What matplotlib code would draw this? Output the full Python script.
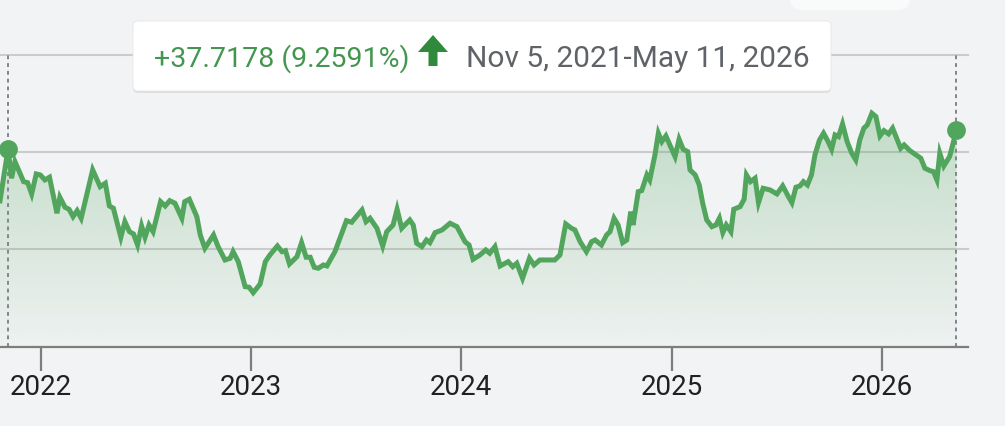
import matplotlib as mpl
import matplotlib.pyplot as plt
import numpy as np
import pandas as pd
from matplotlib.patches import FancyBboxPatch, Polygon

mpl.rcParams['font.family'] = ['Roboto', 'DejaVu Sans']

# price history
dates = [
    '2021-10-22', '2021-11-05', '2021-11-11', '2021-11-17', '2021-12-02', '2021-12-09', '2021-12-16',
    '2021-12-24', '2021-12-31', '2022-01-08', '2022-01-16', '2022-01-29', '2022-02-03', '2022-02-12',
    '2022-02-19', '2022-02-26', '2022-03-05', '2022-03-12', '2022-04-01', '2022-04-14', '2022-04-23',
    '2022-04-30', '2022-05-07', '2022-05-20', '2022-05-27', '2022-06-04', '2022-06-11', '2022-06-18',
    '2022-06-25', '2022-07-01', '2022-07-08', '2022-07-15', '2022-07-28', '2022-08-05', '2022-08-13',
    '2022-08-22', '2022-09-03', '2022-09-08', '2022-09-16', '2022-09-29', '2022-10-05', '2022-10-13',
    '2022-10-28', '2022-11-05', '2022-11-17', '2022-11-26', '2022-12-01', '2022-12-10', '2022-12-22',
    '2022-12-29', '2023-01-05', '2023-01-17', '2023-01-26', '2023-02-03', '2023-02-16', '2023-02-24',
    '2023-03-02', '2023-03-09', '2023-03-22', '2023-03-30', '2023-04-07', '2023-04-14', '2023-04-21',
    '2023-04-28', '2023-05-07', '2023-05-13', '2023-05-27', '2023-06-11', '2023-06-16', '2023-06-25',
    '2023-07-04', '2023-07-13', '2023-07-20', '2023-07-27', '2023-08-08', '2023-08-18', '2023-08-25',
    '2023-09-05', '2023-09-12', '2023-09-20', '2023-10-04', '2023-10-10', '2023-10-16', '2023-10-25',
    '2023-11-02', '2023-11-08', '2023-11-17', '2023-11-29', '2023-12-13', '2023-12-25', '2024-01-08',
    '2024-01-15', '2024-01-22', '2024-02-03', '2024-02-13', '2024-02-20', '2024-02-29', '2024-03-09',
    '2024-03-23', '2024-03-31', '2024-04-07', '2024-04-17', '2024-04-29', '2024-05-07', '2024-05-17',
    '2024-05-29', '2024-06-12', '2024-06-21', '2024-07-01', '2024-07-11', '2024-07-17', '2024-07-26',
    '2024-08-06', '2024-08-15', '2024-08-21', '2024-09-01', '2024-09-10', '2024-09-16', '2024-09-23',
    '2024-09-30', '2024-10-08', '2024-10-15', '2024-10-22', '2024-10-26', '2024-11-04', '2024-11-10',
    '2024-11-19', '2024-11-24', '2024-12-03', '2024-12-09', '2024-12-15', '2024-12-22', '2024-12-29',
    '2025-01-07', '2025-01-14', '2025-01-21', '2025-01-29', '2025-02-02', '2025-02-11', '2025-02-18',
    '2025-02-24', '2025-03-03', '2025-03-12', '2025-03-19', '2025-03-25', '2025-03-31', '2025-04-06',
    '2025-04-14', '2025-04-19', '2025-04-30', '2025-05-07', '2025-05-11', '2025-05-18', '2025-05-26',
    '2025-06-01', '2025-06-09', '2025-06-21', '2025-07-03', '2025-07-13', '2025-07-23', '2025-07-29',
    '2025-08-05', '2025-08-12', '2025-08-18', '2025-08-25', '2025-09-01', '2025-09-07', '2025-09-15',
    '2025-09-22', '2025-09-30', '2025-10-06', '2025-10-12', '2025-10-18', '2025-10-25', '2025-11-02',
    '2025-11-10', '2025-11-17', '2025-11-24', '2025-12-01', '2025-12-07', '2025-12-15', '2025-12-22',
    '2025-12-29', '2026-01-05', '2026-01-13', '2026-01-20', '2026-01-27', '2026-02-03', '2026-02-09',
    '2026-02-19', '2026-03-02', '2026-03-10', '2026-03-17', '2026-03-26', '2026-04-01', '2026-04-07',
    '2026-04-12', '2026-04-19', '2026-04-29', '2026-05-11',
]
prices = [
    300.0, 407.36, 346.5, 380.7, 339.5, 337.4, 314.2,
    355.3, 353.3, 343.0, 348.6, 274.5, 307.4, 286.8,
    282.7, 267.5, 279.8, 264.2, 363.6, 329.2, 336.2,
    289.5, 284.8, 225.1, 257.2, 236.6, 231.9, 209.3,
    248.4, 225.1, 250.4, 236.6, 298.4, 289.5, 300.4,
    295.1, 264.2, 298.4, 303.3, 267.5, 229.8, 202.5,
    229.8, 205.8, 178.4, 181.9, 195.5, 174.9, 123.5,
    122.2, 111.1, 129.0, 174.9, 188.7, 207.2, 195.5,
    197.5, 170.2, 185.2, 214.0, 184.0, 184.0, 163.4,
    161.3, 168.1, 166.0, 195.5, 243.6, 259.3, 256.0,
    268.9, 281.3, 257.2, 264.2, 243.6, 207.2, 236.6,
    250.4, 282.7, 243.6, 260.7, 250.4, 212.8, 205.8,
    219.5, 214.0, 234.6, 240.1, 253.9, 246.9, 216.0,
    209.3, 179.8, 188.7, 199.0, 192.2, 205.8, 166.0,
    174.9, 164.6, 171.6, 140.7, 181.9, 168.1, 178.4,
    178.4, 178.4, 188.7, 252.5, 243.6, 240.1, 216.0,
    195.5, 216.0, 219.5, 209.3, 229.8, 236.6, 264.2,
    250.4, 214.0, 219.5, 277.8, 250.4, 318.9, 321.0,
    353.3, 343.0, 394.4, 439.1, 421.8, 433.5, 415.0,
    390.9, 426.7, 406.2, 401.2, 363.6, 353.3, 332.7,
    295.1, 260.7, 246.9, 250.4, 264.2, 234.6, 250.4,
    236.6, 282.7, 288.1, 303.3, 353.3, 339.5, 346.5,
    296.3, 325.9, 322.4, 314.2, 330.7, 308.6, 296.3,
    328.0, 330.7, 339.5, 332.7, 353.3, 394.4, 425.3,
    439.1, 421.8, 406.2, 435.6, 432.1, 458.2, 421.8,
    397.9, 384.2, 425.3, 449.4, 456.2, 480.2, 473.3,
    433.5, 444.4, 437.7, 449.4, 428.8, 408.2, 415.0,
    403.3, 394.4, 387.7, 367.1, 362.1, 360.1, 343.0,
    397.9, 371.8, 390.9, 445.08,
]
start_date, end_date = '2021-11-05', '2026-05-11'
view_start, view_end = '2021-10-22', '2026-05-31'
year_labels = ['2022', '2023', '2024', '2025', '2026']
grid_values = [200, 400, 600]
change_text = '+37.7178 (9.2591%)'
range_text = 'Nov 5, 2021-May 11, 2026'

LINE = '#52a55c'
BG = '#f1f3f4'
W, H = 1005, 426

fig = plt.figure(figsize=(W / 100, H / 100), dpi=100, facecolor=BG)
ax = fig.add_axes([0, 1 - 346.7 / H, 968 / W, (346.7 - 55) / H])
ax.set_facecolor(BG)

x = pd.to_datetime(dates)
y = np.array(prices)

# gradient area under the line
fill = ax.fill_between(x, y, 0, color='none', lw=0)
grad = np.zeros((256, 1, 4))
grad[..., :3] = mpl.colors.to_rgb(LINE)
grad[:, 0, 3] = np.linspace(0.02, 0.3, 256)
x0, x1 = mpl.dates.date2num(pd.to_datetime([view_start, view_end]))
im = ax.imshow(grad, extent=[x0, x1, 0, max(prices)], origin='lower', aspect='auto', zorder=1)
im.set_clip_path(fill.get_paths()[0], transform=ax.transData)

for v in grid_values:
    ax.axhline(v, color='#cbcbcb', lw=1.5, zorder=0.5, clip_on=False)

ax.vlines(pd.to_datetime([start_date, end_date]), 0, 600, colors='#80868b',
          linestyles=(0, (2, 2)), lw=1.4, zorder=2)

ax.plot(x, y, color=LINE, lw=3.6, solid_joinstyle='miter', zorder=3)
ax.plot(pd.to_datetime([start_date, end_date]), [prices[1], prices[-1]], 'o',
        ms=12.5, color=LINE, zorder=4, clip_on=False)

ax.set_xlim(pd.Timestamp(view_start), pd.Timestamp(view_end))
ax.set_ylim(0, 600)
ax.set_yticks([])
ax.set_xticks(pd.to_datetime([f'{t}-01-01' for t in year_labels]), year_labels)
ax.tick_params(axis='x', length=17, width=1.6, color='#7d7d7d', labelsize=20,
               labelcolor='#202124', pad=3)
for side in ['top', 'left', 'right']:
    ax.spines[side].set_visible(False)
ax.spines['bottom'].set_color('#7d7d7d')
ax.spines['bottom'].set_linewidth(1.6)

# tooltip box
shadow = FancyBboxPatch((133, H - 93), 698, 70, boxstyle='round,pad=0,rounding_size=5',
                        transform=None, fc='#000000', alpha=0.08, ec='none')
box = FancyBboxPatch((133, H - 91), 698, 70, boxstyle='round,pad=0,rounding_size=5',
                     transform=None, fc='white', ec='#e6e6e6', lw=0.6)
blob = FancyBboxPatch((790, H - 10), 120, 40, boxstyle='round,pad=0,rounding_size=12',
                      transform=None, fc='white', alpha=0.6, ec='none')
fig.patches.extend([blob, shadow, box])

arrow_px = [(433, 35), (448, 52), (437.5, 52), (437.5, 66), (428.5, 66), (428.5, 52), (418, 52)]
fig.patches.append(Polygon([(px, H - py) for px, py in arrow_px], closed=True,
                           transform=None, fc='#2f8a3c', ec='none'))

fig.text(154 / W, 1 - 67 / H, change_text, color='#43964f', fontsize=20.5, va='baseline')
fig.text(466 / W, 1 - 67 / H, range_text, color='#5f6368', fontsize=21.5, va='baseline')

fig.savefig('out.png', dpi=100, facecolor=BG)
